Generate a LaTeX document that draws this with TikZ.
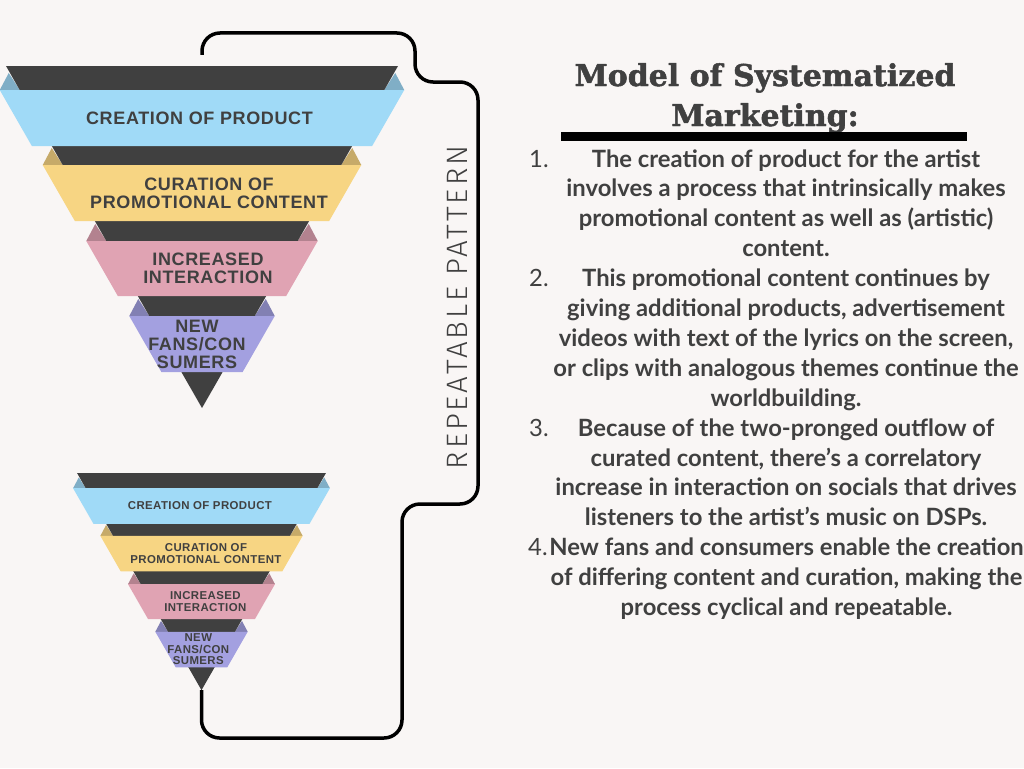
\documentclass[tikz,border=0pt]{standalone}
\usepackage{fontspec}
\setmainfont{Lato}
\newfontfamily\labelfont{Liberation Sans}[LetterSpace=3.5]
\newfontfamily\titlefont{DejaVu Serif}[BoldFeatures={FakeBold=1.6}]
\newfontfamily\lightfont{Fira Sans Light}[LetterSpace=10]
\definecolor{paper}{HTML}{F9F6F5}
\definecolor{inkgray}{HTML}{404040}
\definecolor{funneldark}{HTML}{404040}
\definecolor{creationblue}{HTML}{A0DAF7}
\definecolor{curationgold}{HTML}{F7D583}
\definecolor{interactionrose}{HTML}{E0A3B3}
\definecolor{fanslilac}{HTML}{A3A0E0}
\tikzset{
  funnellabel/.style={text=inkgray, align=center, inner sep=0pt,
    font=\labelfont\bfseries\fontsize{18}{18}\selectfont},
  itemtext/.style={text=inkgray, align=center, inner sep=0pt, anchor=base,
    font=\bfseries\fontsize{23.8}{29.9}\selectfont},
  itemnum/.style={text=inkgray, inner sep=0pt, anchor=base west,
    font=\fontsize{23.8}{29.9}\selectfont},
  loopline/.style={line width=3.5pt, rounded corners=18pt},
}
\begin{document}
\begin{tikzpicture}[x=1pt, y=-1pt, line join=round]
		\useasboundingbox (0,0) rectangle (1024,768);
		\fill[paper] (0,0) rectangle (1024,768);
		% the two funnels, the lower one a smaller copy
		\foreach \fx/\fy/\fs/\f in {202/66/1/a, 201.5/473/0.635/b}{
			\begin{scope}[shift={(\fx,\fy)}, scale=\fs, every node/.append style={transform shape}]
				\foreach \t/\c in {24/creationblue, 99/curationgold, 175/interactionrose, 250/fanslilac}{
					\pgfmathsetmacro\w{196*(1-\t/342)}
					\fill[\c!80!black] (-\w-20,\t) -- (-\w,\t) -- (-\w-11,\t-17) -- cycle;
					\fill[\c!80!black] (\w+20,\t) -- (\w,\t) -- (\w+11,\t-17) -- cycle;
				}
				\path (0,-11) coordinate (top\f) (0,342) coordinate (tip\f);
				\fill[funneldark] (-196,0) -- (196,0) -- (tip\f) -- cycle;
				\foreach \t/\b/\c/\dx/\txt/\n in {
					24/80/creationblue/-2.5/{CREATION OF PRODUCT}/1,
					99/155/curationgold/7/{CURATION OF\\PROMOTIONAL CONTENT}/2,
					175/230/interactionrose/6/{INCREASED\\INTERACTION}/3,
					250/306/fanslilac/-5/{NEW\\FANS/CON\\SUMERS}/4}{
					\pgfmathsetmacro\wt{196*(1-\t/342)+20}
					\pgfmathsetmacro\wb{196*(1-\b/342)+20}
					\fill[\c] (-\wt,\t) -- (\wt,\t) -- (\wb,\b) -- (-\wb,\b) -- cycle;
					\node[funnellabel] (label\f\n) at (\dx,{(\t+\b)/2}) {\txt};
				}
			\end{scope}
		}
		% loop back from the lower tip to the upper funnel
		\draw[loopline] (tipb) |- (402,738) |- (478,504) |- (415,82) |- (202,33) -- (topa);
		\node[text=inkgray, rotate=90, inner sep=0pt, font=\lightfont\fontsize{29.5}{29.5}\selectfont]
			(repeat) at (457.5,307.5) {REPEATABLE PATTERN};
		% title and list (base = last line)
		\node[text=inkgray, align=center, inner sep=0pt, anchor=base,
			font=\titlefont\bfseries\fontsize{30}{40}\selectfont]
			(title) at (765,126) {Model of Systematized\\Marketing:};
		\fill (561,132) rectangle (967,141);
		\node[itemtext] (item1) at (786,256.7) {The creation of product for the artist\\involves a process that intrinsically makes\\promotional content as well as (artistic)\\content.};
		\node[itemtext] (item2) at (786,406.2) {This promotional content continues by\\giving additional products, advertisement\\videos with text of the lyrics on the screen,\\or clips with analogous themes continue the\\worldbuilding.};
		\node[itemtext] (item3) at (786,525.8) {Because of the two-pronged outflow of\\curated content, there’s a correlatory\\increase in interaction on socials that drives\\listeners to the artist’s music on DSPs.};
		\node[itemtext] (item4) at (786.5,615.5) {New fans and consumers enable the creation\\of differing content and curation, making the\\process cyclical and repeatable.};
		\node[itemnum] (num1) at (529,167) {1.};
		\node[itemnum] (num2) at (529,286.6) {2.};
		\node[itemnum] (num3) at (529,436.1) {3.};
		\node[itemnum] (num4) at (528,555.7) {4.};
\end{tikzpicture}
\end{document}
